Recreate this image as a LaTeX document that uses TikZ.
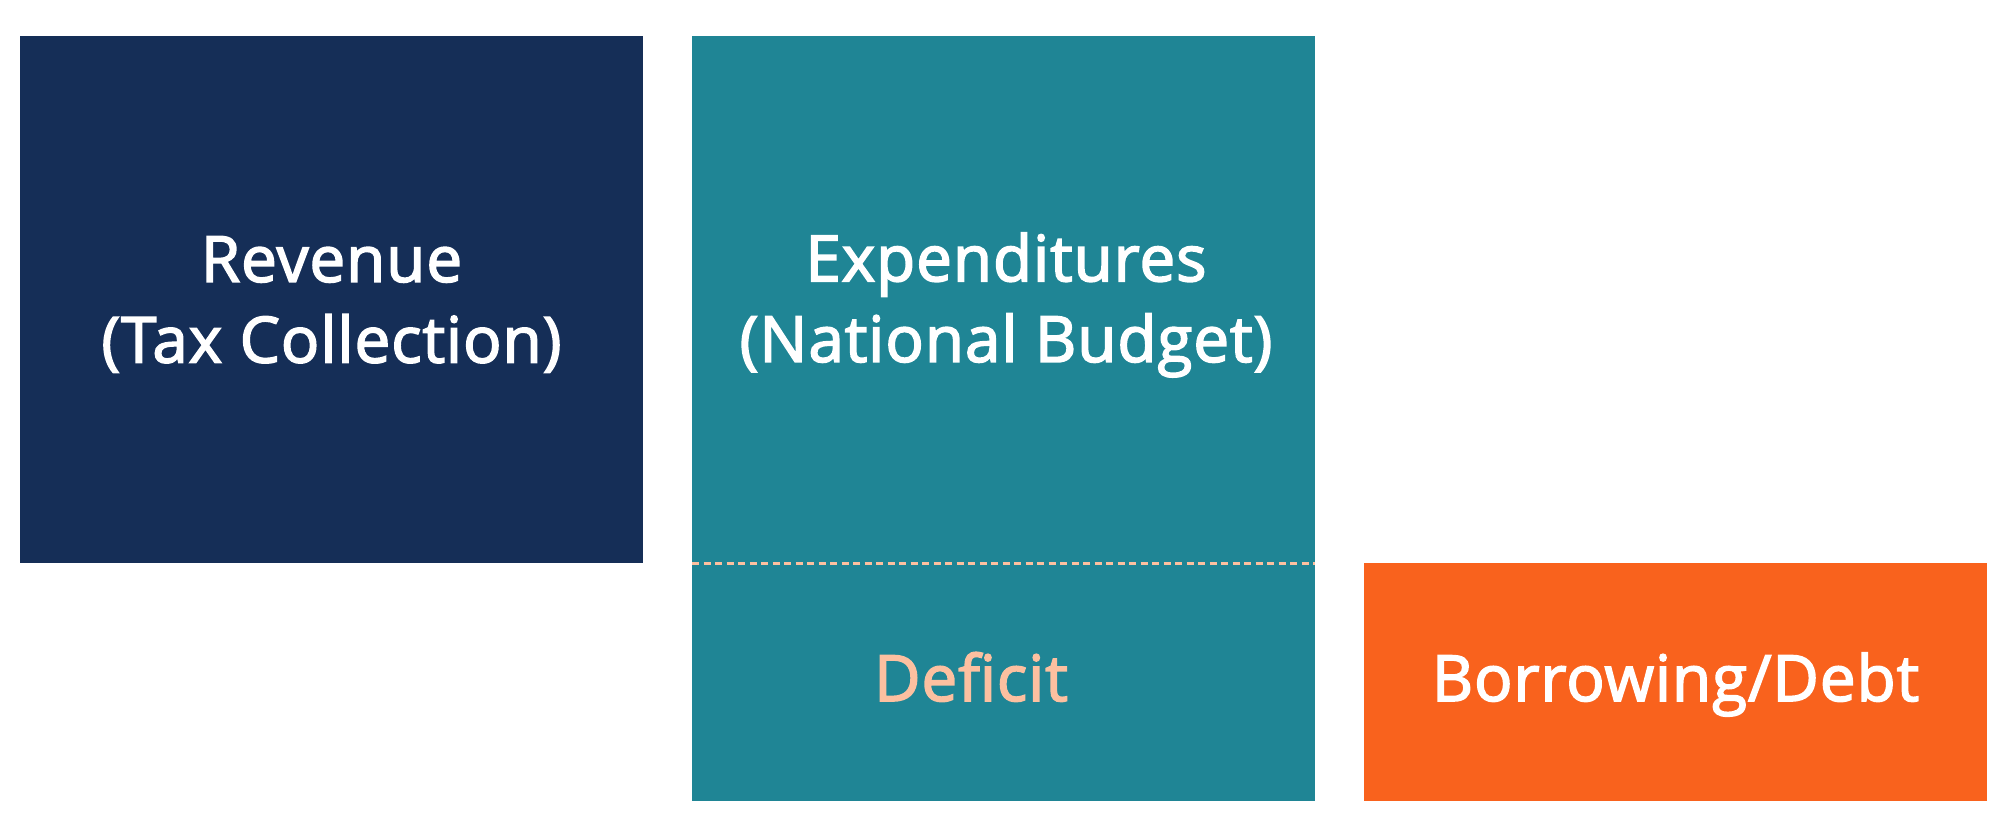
\documentclass[tikz,border=0pt]{standalone}
\usepackage{fontspec}
\setmainfont{Open Sans}[FakeBold=2.5, LetterSpace=1.5]
\definecolor{navyblue}{HTML}{152E57}
\definecolor{tealbox}{HTML}{1F8595}
\definecolor{orangebox}{HTML}{F9621D}
\definecolor{peach}{HTML}{FCC0A0}
\tikzset{
  box/.style={inner sep=0pt, outer sep=0pt, minimum width=623bp, anchor=north west},
  label/.style={text=white, align=center, inner sep=0pt, font=\fontsize{64}{81}\selectfont},
}
\begin{document}
\begin{tikzpicture}[x=1bp,y=-1bp]
\useasboundingbox (0,0) rectangle (2007,839);
\node[box, fill=navyblue, minimum height=527bp] (rev) at (20,36) {};
\node[box, fill=tealbox, minimum height=765bp] (exp) at (692,36) {};
\node[box, fill=orangebox, minimum height=238bp] (bor) at (1364,563) {};
\coordinate (dl) at (692,563);
\coordinate (dr) at (1315,563);
\draw[peach, line width=3bp, dash pattern=on 7bp off 4.5bp] (dl) -- (dr);
\node[label] (revtext) at ([yshift=-5bp]rev.center) {Revenue\\(Tax Collection)};
\node[label] (exptext) at (1006,305) {Expenditures\\(National Budget)};
\node[label, text=peach, anchor=base] (deftext) at (971,701) {Deficit};
\node[label, anchor=base] (bortext) at (1675.5,701) {Borrowing/Debt};
\end{tikzpicture}
\end{document}
